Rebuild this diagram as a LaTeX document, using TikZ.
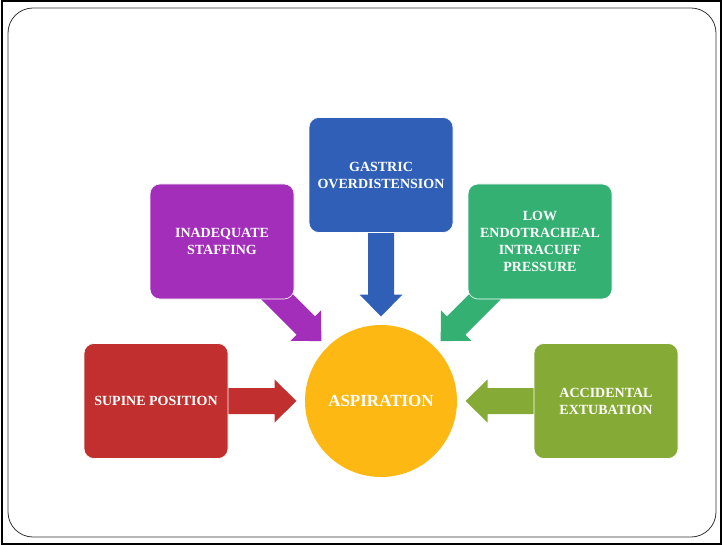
\documentclass[tikz,border=0pt]{standalone}
\usepackage{fontspec}
\setmainfont{Liberation Serif}
\usetikzlibrary{calc,backgrounds}
\definecolor{supinered}{HTML}{C22F2F}
\definecolor{staffpurple}{HTML}{A22EB9}
\definecolor{gastricblue}{HTML}{2F5FB7}
\definecolor{cuffgreen}{HTML}{34B172}
\definecolor{extubolive}{HTML}{86AA36}
\definecolor{aspyellow}{HTML}{FDB813}
\tikzset{
  cause/.style = {rectangle, rounded corners=10pt, draw=white, line width=0.6pt, text=white, align=center, minimum width=144pt, minimum height=115pt, font=\bfseries\fontsize{14}{17}\selectfont},
  hub/.style = {circle, fill=aspyellow, text=white, minimum size=152pt, font=\bfseries\fontsize{17}{20}\selectfont}
}
% block arrow: colour, from node, to node
\newcommand{\pusharrow}[3]{%
  \coordinate (tip) at ($(#3.center)!84.5pt!(#2.center)$);
  \coordinate (neck) at ($(tip)!22pt!(#2.center)$);
  \fill[#1] ($(#2.center)!13pt!90:(tip)$) -- ($(neck)!13pt!90:(tip)$) -- ($(neck)!21.5pt!90:(tip)$)
    -- (tip) -- ($(neck)!21.5pt!-90:(tip)$) -- ($(neck)!13pt!-90:(tip)$) -- ($(#2.center)!13pt!-90:(tip)$) -- cycle;
}
\begin{document}
\begin{tikzpicture}[x=1pt,y=-1pt]
\useasboundingbox (0,0) rectangle (722,545);
% frames
\draw[line width=2pt] (1.5,1.5) rectangle (720.5,543.5);
\draw[line width=0.8pt, black!80, rounded corners=25pt] (8,8) rectangle (716,537);
% hub and causes
\node[hub] (asp) at (381,401) {ASPIRATION};
\node[cause, fill=supinered] (supine) at (156,401) {SUPINE POSITION};
\node[cause, fill=staffpurple] (staff) at (222,241.5) {INADEQUATE\\STAFFING};
\node[cause, fill=gastricblue] (gastric) at (381,175) {GASTRIC\\OVERDISTENSION};
\node[cause, fill=cuffgreen] (cuff) at (540,241.5) {LOW\\ENDOTRACHEAL\\INTRACUFF\\PRESSURE};
\node[cause, fill=extubolive] (extub) at (606,401) {ACCIDENTAL\\EXTUBATION};
% block arrows behind the boxes
\begin{scope}[on background layer]
\pusharrow{supinered}{supine}{asp}
\pusharrow{staffpurple}{staff}{asp}
\pusharrow{gastricblue}{gastric}{asp}
\pusharrow{cuffgreen}{cuff}{asp}
\pusharrow{extubolive}{extub}{asp}
\end{scope}
\end{tikzpicture}
\end{document}
